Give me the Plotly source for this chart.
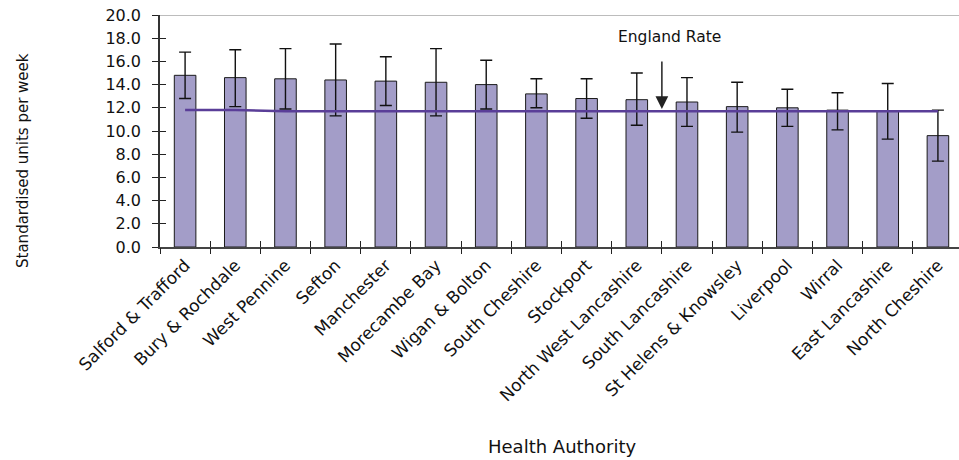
import plotly.graph_objects as go

categories = ["Salford & Trafford", "Bury & Rochdale", "West Pennine", "Sefton",
              "Manchester", "Morecambe Bay", "Wigan & Bolton", "South Cheshire",
              "Stockport", "North West Lancashire", "South Lancashire",
              "St Helens & Knowsley", "Liverpool", "Wirral", "East Lancashire",
              "North Cheshire"]
rates = [14.8, 14.6, 14.5, 14.4, 14.3, 14.2, 14.0, 13.2, 12.8, 12.7, 12.5, 12.1, 12.0, 11.8, 11.7, 9.6]
upper_ci = [16.8, 17.0, 17.1, 17.5, 16.4, 17.1, 16.1, 14.5, 14.5, 15.0, 14.6, 14.2, 13.6, 13.3, 14.1, 11.8]
lower_ci = [12.8, 12.1, 11.9, 11.3, 12.2, 11.3, 11.9, 12.0, 11.1, 10.5, 10.4, 9.9, 10.4, 10.1, 9.3, 7.4]
england_rate = [11.8, 11.8, 11.7, 11.7, 11.7, 11.7, 11.7, 11.7, 11.7, 11.7, 11.7, 11.7, 11.7, 11.7, 11.7, 11.7]
y_ticks = [0, 2, 4, 6, 8, 10, 12, 14, 16, 18, 20]

FONT = "DejaVu Sans"
n = len(categories)
xs = list(range(n))

fig = go.Figure()
fig.add_trace(go.Bar(
    x=xs, y=rates, width=0.43,
    marker=dict(color="#A39DC8", line=dict(color="#1a1a1a", width=1)),
    error_y=dict(type="data", symmetric=False,
                 array=[u - v for u, v in zip(upper_ci, rates)],
                 arrayminus=[v - l for v, l in zip(rates, lower_ci)],
                 color="#111111", thickness=1.4, width=6),
    showlegend=False, hoverinfo="skip",
))
fig.add_trace(go.Scatter(
    x=xs, y=england_rate, mode="lines",
    line=dict(color="#5A3E98", width=2.5),
    showlegend=False, hoverinfo="skip",
))

x_range = [-0.5, 15.42]
boundaries = [i - 0.5 for i in range(n)]

fig.update_layout(
    width=959, height=460,
    margin=dict(l=160, r=0, t=15, b=213, autoexpand=False),
    paper_bgcolor="white", plot_bgcolor="white",
    font=dict(family=FONT, size=15, color="#111111"),
    xaxis=dict(range=x_range, tickmode="array", tickvals=xs, ticktext=categories,
               tickangle=-45, showgrid=False, zeroline=False, automargin=False,
               showline=True, linecolor="#444444", linewidth=1.5,
               ticklabeloverflow="allow",
               ticks="", tickfont=dict(family=FONT, size=17, color="#111111")),
    xaxis2=dict(range=x_range, overlaying="x", anchor="y", side="bottom",
                tickmode="array", tickvals=boundaries, showticklabels=False,
                ticks="outside", ticklen=6, tickwidth=1.2, tickcolor="#222222",
                showgrid=False, zeroline=False, showline=False, automargin=False),
    xaxis3=dict(range=x_range, overlaying="x", anchor="y", side="bottom",
                tickmode="array", tickvals=boundaries, showticklabels=False,
                ticks="inside", ticklen=6, tickwidth=1.2, tickcolor="#222222",
                showgrid=False, zeroline=False, showline=False, automargin=False),
    yaxis=dict(range=[0, 20], tickmode="array", tickvals=y_ticks,
               ticktext=[f"{v:.1f}" for v in y_ticks], automargin=False,
               showgrid=False, zeroline=False, showline=True,
               linecolor="#333333", linewidth=1.5,
               ticks="outside", ticklen=6, tickwidth=1.2, tickcolor="#222222",
               ticklabelstandoff=8, ticklabeloverflow="allow",
               tickfont=dict(family=FONT, size=16, color="#111111")),
    yaxis2=dict(range=[0, 20], overlaying="y", anchor="x", side="left",
                tickmode="array", tickvals=y_ticks, showticklabels=False,
                ticks="inside", ticklen=6, tickwidth=1.2, tickcolor="#222222",
                showgrid=False, zeroline=False, showline=False, automargin=False),
)

# invisible traces to activate overlay axes
fig.add_trace(go.Scatter(x=[0], y=[0], xaxis="x2", yaxis="y", mode="markers",
                         marker=dict(opacity=0), showlegend=False, hoverinfo="skip"))
fig.add_trace(go.Scatter(x=[0], y=[0], xaxis="x3", yaxis="y2", mode="markers",
                         marker=dict(opacity=0), showlegend=False, hoverinfo="skip"))

fig.add_shape(type="line", xref="paper", yref="y", x0=0, x1=1, y0=20, y1=20,
              line=dict(color="#A6A6A6", width=1.5), layer="below")

fig.add_annotation(x=9.66, y=18.1, xref="x", yref="y", text="England Rate",
                   showarrow=False, font=dict(family=FONT, size=15.5, color="#111111"))
fig.add_annotation(x=9.5, y=11.9, xref="x", yref="y", text="",
                   showarrow=True, ax=0, ay=-49, arrowhead=2, arrowsize=1.7,
                   arrowwidth=1.5, arrowcolor="#222222")

fig.add_annotation(x=-0.1715, y=0.375, xref="paper", yref="paper",
                   text="Standardised units per week", textangle=-90,
                   showarrow=False, xanchor="center", yanchor="middle",
                   font=dict(family=FONT, size=15, color="#111111"))
fig.add_annotation(x=0.503, y=-0.862, xref="paper", yref="paper",
                   text="Health Authority", showarrow=False,
                   xanchor="center", yanchor="middle",
                   font=dict(family=FONT, size=18, color="#111111"))

fig.write_html("out.html", config={"displayModeBar": False},
               post_script="document.body.style.margin='0';")
